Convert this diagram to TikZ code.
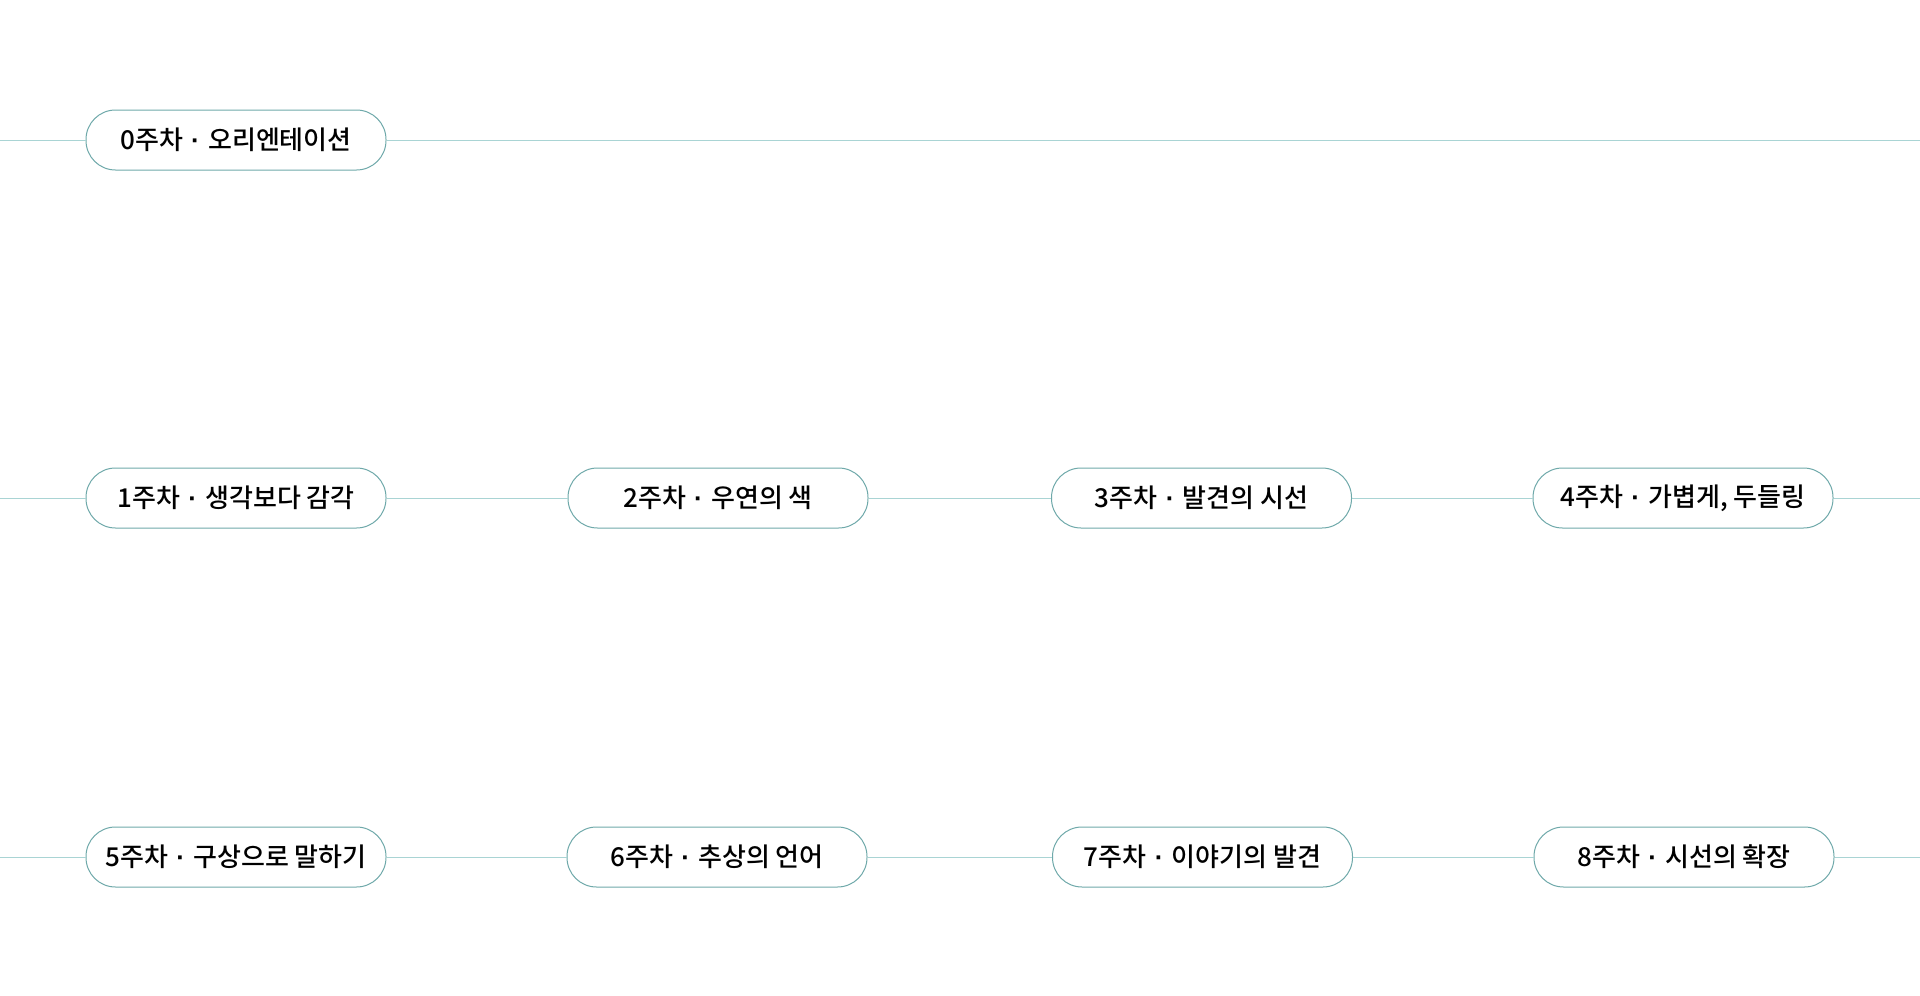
\documentclass[tikz,border=0pt]{standalone}
\usepackage{fontspec}
\newfontfamily\kr{Noto Sans CJK KR Medium}
\newfontfamily\dotf{Liberation Sans}
\newcommand{\md}{\hspace{0.32em}{\dotf\bfseries\char"00B7}\hspace{0.32em}}
\definecolor{lineC}{HTML}{A9D4D4}
\definecolor{pillC}{HTML}{6FA9AA}
\begin{document}
\begin{tikzpicture}[x=1pt,y=-1pt,
  pill/.style={draw=pillC, line width=1pt, fill=white, rectangle, rounded corners=29.5pt,
    minimum width=300pt, minimum height=60pt, inner sep=0pt,
    font=\kr\fontsize{26}{30}\selectfont, text=black},
  link/.style={draw=lineC, line width=1pt}]
\useasboundingbox (0,0) rectangle (1920,996);
\coordinate (l0) at (0,140); \coordinate (r0) at (1920,140);
\coordinate (l1) at (0,498); \coordinate (r1) at (1920,498);
\coordinate (l2) at (0,857); \coordinate (r2) at (1920,857);
\node[pill] (w0) at (236,140) {0주차\md 오리엔테이션};
\node[pill] (w1) at (236,498) {1주차\md 생각보다 감각};
\node[pill] (w2) at (718,498) {2주차\md 우연의 색};
\node[pill] (w3) at (1201.5,498) {3주차\md 발견의 시선};
\node[pill] (w4) at (1683,498) {4주차\md 가볍게, 두들링};
\node[pill] (w5) at (236,857) {5주차\md 구상으로 말하기};
\node[pill] (w6) at (717,857) {6주차\md 추상의 언어};
\node[pill] (w7) at (1202.5,857) {7주차\md 이야기의 발견};
\node[pill] (w8) at (1684,857) {8주차\md 시선의 확장};
\draw[link] (l0) -- (w0); \draw[link] (w0) -- (r0);
\draw[link] (l1) -- (w1); \draw[link] (w1) -- (w2); \draw[link] (w2) -- (w3);
\draw[link] (w3) -- (w4); \draw[link] (w4) -- (r1);
\draw[link] (l2) -- (w5); \draw[link] (w5) -- (w6); \draw[link] (w6) -- (w7);
\draw[link] (w7) -- (w8); \draw[link] (w8) -- (r2);
\end{tikzpicture}
\end{document}
